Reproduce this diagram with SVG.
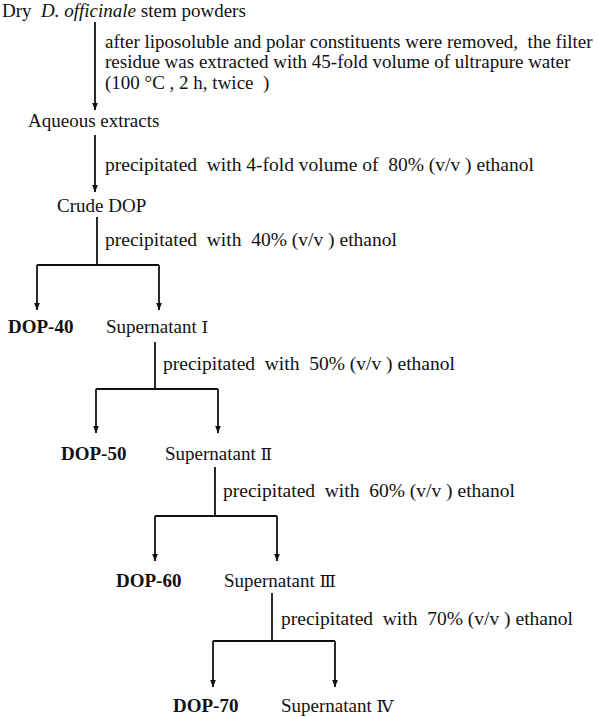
<svg xmlns="http://www.w3.org/2000/svg" width="598" height="717" viewBox="0 0 598 717" xml:space="preserve">
<style>
text{font-family:"Liberation Serif","Noto Sans CJK SC",serif;font-size:19px;fill:#111;white-space:pre}
.b{font-weight:bold}
.p{font-size:19.5px}
.r{font-family:"DejaVu Serif","Noto Sans CJK SC",serif;font-size:17px}
.conn path{fill:none;stroke:#111;stroke-width:1.8}
</style>
<defs>
<marker id="ah" markerWidth="8" markerHeight="10" refX="7.5" refY="3" orient="auto" markerUnits="userSpaceOnUse" viewBox="0 0 8 6">
<path d="M0,0 L8,3 L0,6 Z" fill="#111"/>
</marker>
</defs>
<rect width="598" height="717" fill="#fff"/>
<g class="conn" id="connectors">
<path d="M95,22 V110" marker-end="url(#ah)"/>
<path d="M95,135 V192" marker-end="url(#ah)"/>
<path d="M97,217 V265"/>
<path d="M37,265 H159"/>
<path d="M37,265 V310" marker-end="url(#ah)"/>
<path d="M159,265 V310" marker-end="url(#ah)"/>
<path d="M155,342 V389"/>
<path d="M96,389 H218"/>
<path d="M96,389 V433" marker-end="url(#ah)"/>
<path d="M218,389 V433" marker-end="url(#ah)"/>
<path d="M215,467 V516"/>
<path d="M155,516 H277"/>
<path d="M155,516 V561" marker-end="url(#ah)"/>
<path d="M277,516 V561" marker-end="url(#ah)"/>
<path d="M272,593 V641"/>
<path d="M213,641 H335"/>
<path d="M213,641 V687" marker-end="url(#ah)"/>
<path d="M335,641 V687" marker-end="url(#ah)"/>
</g>
<g id="labels">
<text x="105" y="48">after liposoluble and polar constituents were removed,  the filter</text>
<text x="105" y="68">residue was extracted with 45-fold volume of ultrapure water</text>
<text x="105" y="89">(100 °C , 2 h, twice  )</text>
<text class="p" x="105" y="171">precipitated  with 4-fold volume of  80% (v/v ) ethanol</text>
<text class="p" x="105" y="246">precipitated  with  40% (v/v ) ethanol</text>
<text class="p" x="163" y="370">precipitated  with  50% (v/v ) ethanol</text>
<text class="p" x="223" y="497">precipitated  with  60% (v/v ) ethanol</text>
<text class="p" x="281" y="625">precipitated  with  70% (v/v ) ethanol</text>
</g>
<g id="n-dry"><text x="2" y="17">Dry  <tspan font-style="italic">D. officinale</tspan> stem powders</text></g>
<g id="n-aqueous"><text x="28" y="127">Aqueous extracts</text></g>
<g id="n-crude"><text x="57" y="212">Crude DOP</text></g>
<g id="n-dop40"><text class="b" x="8" y="333">DOP-40</text></g>
<g id="n-sup1"><text x="106" y="333">Supernatant <tspan class="r">Ⅰ</tspan></text></g>
<g id="n-dop50"><text class="b" x="61" y="460">DOP-50</text></g>
<g id="n-sup2"><text x="165" y="460">Supernatant <tspan class="r">Ⅱ</tspan></text></g>
<g id="n-dop60"><text class="b" x="116" y="587">DOP-60</text></g>
<g id="n-sup3"><text x="224" y="587">Supernatant <tspan class="r">Ⅲ</tspan></text></g>
<g id="n-dop70"><text class="b" x="173" y="712">DOP-70</text></g>
<g id="n-sup4"><text x="281" y="712">Supernatant <tspan class="r">Ⅳ</tspan></text></g>
</svg>
